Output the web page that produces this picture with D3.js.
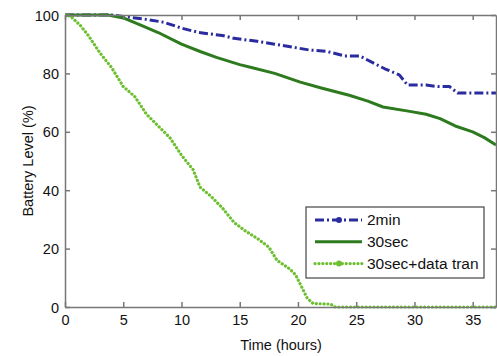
<!DOCTYPE html>
<html><head><meta charset="utf-8">
<script src="https://cdn.jsdelivr.net/npm/d3@7"></script>
<style>body{margin:0;background:#fff}svg{display:block}</style>
</head><body>
<script>
const xTicks = [0,5,10,15,20,25,30,35];
const yTicks = [0,20,40,60,80,100];
const seriesNames = ["2min","30sec","30sec+data tran"];
const twoMin = [[0,100],[4,100],[5,99.5],[7,98.5],[8.5,97.5],[10,95.5],[11.5,94],[13.5,93],[14.5,92],[16.5,91],[18,90],[19.5,89],[21,88],[22.5,87.5],[24,86],[25.3,86],[26.5,83.5],[27.5,81.5],[28.7,79.5],[29.4,76],[31,76],[32,75.5],[33,75.5],[33.7,73.3],[37,73.3]];
const thirtySec = [[0,100],[3.7,100],[5,99],[6.5,96.5],[8,94],[10,90],[11.6,87.5],[13,85.5],[15,83],[16,82],[18,80],[20.2,77],[22,75],[24.4,72.5],[26,70.5],[27.3,68.5],[29.6,67],[31,66],[32.2,64.5],[33.5,62],[35,60],[36,58],[37,55.5]];
const thirtySecData = [[0,100],[0.5,99.5],[1.3,96.5],[2,93],[3,87],[4,82],[5,75.5],[6,72],[7,66],[8,62],[9,58],[10,52],[11,47],[11.6,41],[12.5,38],[13.5,34],[14.5,29],[15.5,26],[16.5,23.5],[17.5,20.5],[18.2,16],[19.3,13],[19.8,11],[20.3,7],[20.8,3],[21.3,1.2],[22.8,1],[23.2,0],[37,0]];

const W=497,H=356;
const m={l:65,t:15,r:1,b:49};
const svg=d3.select("body").append("svg").attr("width",W).attr("height",H);
const x=d3.scaleLinear().domain([0,37]).range([m.l,W-m.r]);
const y=d3.scaleLinear().domain([0,100]).range([H-m.b,m.t]);
const axisCol="#777";
const font="Liberation Sans, Arial, sans-serif";

const styles=[
 {data:twoMin,color:"#2b2ba0",dash:"9,3,2,3",w:3,cap:"butt"},
 {data:thirtySec,color:"#2e7a1f",dash:null,w:3,cap:"butt"},
 {data:thirtySecData,color:"#6cbf2e",dash:"0.1,3.8",w:3.2,cap:"round"}
];

svg.append("clipPath").attr("id","c").append("rect")
  .attr("x",m.l).attr("y",m.t-3).attr("width",W-m.r-m.l).attr("height",H-m.b-m.t+6);

const lineLin=d3.line().x(d=>x(d[0])).y(d=>y(d[1]));
const g=svg.append("g").attr("clip-path","url(#c)");
styles.forEach(s=>{
  g.append("path").attr("d",lineLin(s.data)).attr("fill","none")
   .attr("stroke",s.color).attr("stroke-width",s.w).attr("stroke-linecap",s.cap)
   .attr("stroke-linejoin","round")
   .attr("stroke-dasharray",s.dash);
});

// axes
const xb=svg.append("g").attr("transform",`translate(0,${H-m.b})`)
 .call(d3.axisBottom(x).tickValues(xTicks).tickSizeInner(-5).tickSizeOuter(0).tickPadding(8));
const xt=svg.append("g").attr("transform",`translate(0,${m.t})`)
 .call(d3.axisTop(x).tickValues(xTicks).tickSizeInner(-5).tickSizeOuter(0).tickFormat(""));
const yl=svg.append("g").attr("transform",`translate(${m.l},0)`)
 .call(d3.axisLeft(y).tickValues(yTicks).tickSizeInner(-5).tickSizeOuter(0).tickPadding(6));
const yr=svg.append("g").attr("transform",`translate(${W-m.r},0)`)
 .call(d3.axisRight(y).tickValues(yTicks).tickSizeInner(-5).tickSizeOuter(0).tickFormat(""));
[xb,xt,yl,yr].forEach(a=>{
  a.selectAll("path,line").attr("stroke",axisCol).attr("stroke-width",1.5);
  a.selectAll("text").attr("fill","#111").style("font-family",font).style("font-size","14.5px");
});
yl.selectAll("text").attr("dy","0.35em");

svg.append("text").attr("x",281).attr("y",350).attr("text-anchor","middle")
 .style("font-family",font).style("font-size","14.5px").attr("fill","#111").text("Time (hours)");
svg.append("text").attr("transform",`translate(33,${(m.t+H-m.b)/2}) rotate(-90)`).attr("text-anchor","middle")
 .style("font-family",font).style("font-size","14.5px").attr("fill","#111").text("Battery Level (%)");

// legend
const lg=svg.append("g");
lg.append("rect").attr("x",306).attr("y",207).attr("width",178).attr("height",71)
 .attr("fill","#fff").attr("stroke","#444").attr("stroke-width",1.2);
styles.forEach((s,i)=>{
  const yy=220+i*21.8;
  lg.append("line").attr("x1",315).attr("x2",362).attr("y1",yy).attr("y2",yy)
   .attr("stroke",s.color).attr("stroke-width",s.w).attr("stroke-linecap",s.cap).attr("stroke-dasharray",s.dash);
  if(i!==1) lg.append("circle").attr("cx",339).attr("cy",yy).attr("r",3).attr("fill",s.color);
  lg.append("text").attr("x",367).attr("y",yy).attr("dy","0.35em")
   .style("font-family",font).style("font-size","15.5px").attr("fill","#111").text(seriesNames[i]);
});
</script>
</body></html>
